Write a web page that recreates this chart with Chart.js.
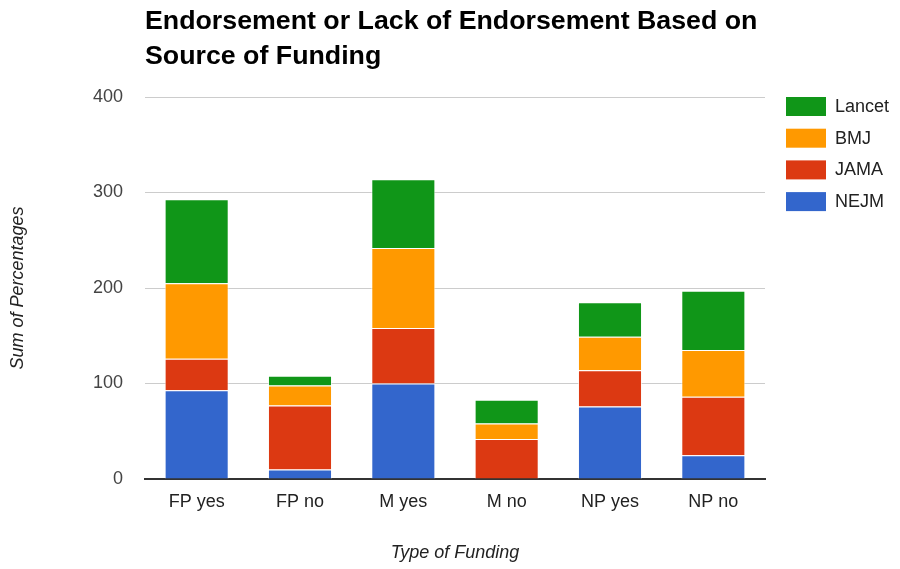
<!DOCTYPE html>
<html>
<head>
<meta charset="utf-8">
<title>Endorsement by Source of Funding</title>
<script src="https://cdn.jsdelivr.net/npm/chart.js@4.4.1/dist/chart.umd.min.js"></script>
<style>
  html, body { margin: 0; padding: 0; background: #fff; }
  #wrap { width: 900px; height: 569px; position: relative; }
</style>
</head>
<body>
<div id="wrap"><canvas id="chart" width="900" height="569"></canvas></div>
<script>
const categories = ['FP yes', 'FP no', 'M yes', 'M no', 'NP yes', 'NP no'];
const nejm = [93, 10, 100, 0, 76, 25];
const jama = [33, 67, 58, 42, 38, 61];
const bmj = [79, 21, 84, 16, 35, 49];
const lancet = [88, 10, 72, 25, 36, 62];
const yTicks = [0, 100, 200, 300, 400];

const titleLines = ['Endorsement or Lack of Endorsement Based on', 'Source of Funding'];
const font = '"Liberation Sans", Arial, sans-serif';

// title drawn over the plot's left edge, like the original
const titlePlugin = {
  id: 'leftTitle',
  afterDraw(chart) {
    const ctx = chart.ctx;
    ctx.save();
    ctx.fillStyle = '#000';
    ctx.font = 'bold 25px ' + font;
    ctx.textBaseline = 'alphabetic';
    ctx.translate(chart.chartArea.left, 0);
    ctx.scale(1.07, 1);
    titleLines.forEach((line, i) => {
      ctx.fillText(line, 0, 29 + i * 35);
    });
    ctx.restore();
  }
};

// legend to the right, top row first (reverse of stacking order)
const legendPlugin = {
  id: 'sideLegend',
  afterDraw(chart) {
    const ctx = chart.ctx;
    const sets = chart.data.datasets.slice().reverse();
    ctx.save();
    ctx.font = '18px ' + font;
    ctx.textBaseline = 'middle';
    sets.forEach((ds, i) => {
      const y = chart.chartArea.top + i * 31.7;
      ctx.fillStyle = ds.backgroundColor;
      ctx.fillRect(786, y, 40, 19);
      ctx.fillStyle = '#222';
      ctx.fillText(ds.label, 835, y + 10);
    });
    ctx.restore();
  }
};

const bar = (label, data, color) => ({
  label, data,
  backgroundColor: color,
  borderColor: 'rgba(255,255,255,0.7)',
  borderWidth: 1,
  categoryPercentage: 1,
  barPercentage: 0.62
});

new Chart(document.getElementById('chart'), {
  type: 'bar',
  data: {
    labels: categories,
    datasets: [
      bar('NEJM', nejm, '#3366cc'),
      bar('JAMA', jama, '#dc3912'),
      bar('BMJ', bmj, '#ff9900'),
      bar('Lancet', lancet, '#109618')
    ]
  },
  options: {
    responsive: false,
    animation: false,
    layout: { padding: { top: 97, right: 135, left: 0, bottom: 0 } },
    plugins: {
      legend: { display: false },
      title: { display: false },
      tooltip: { enabled: false }
    },
    scales: {
      x: {
        stacked: true,
        grid: { display: false, drawTicks: false },
        border: { color: '#333', width: 2 },
        ticks: { color: '#222', font: { family: font, size: 18 }, padding: 12 },
        title: {
          display: true, text: 'Type of Funding', color: '#222',
          font: { family: font, size: 18, style: 'italic' },
          padding: { top: 0, bottom: 5 }
        },
        afterFit(scale) { scale.height = 90; }
      },
      y: {
        stacked: true,
        min: 0, max: 400,
        afterBuildTicks(scale) { scale.ticks = yTicks.map(v => ({ value: v })); },
        grid: { color: '#ccc', drawTicks: false },
        border: { display: false },
        ticks: { color: '#444', font: { family: font, size: 18 }, padding: 22 },
        title: {
          display: true, text: 'Sum of Percentages', color: '#222',
          font: { family: font, size: 18, style: 'italic' },
          padding: { top: 7, bottom: 0 }
        },
        afterFit(scale) { scale.width = 145; }
      }
    }
  },
  plugins: [titlePlugin, legendPlugin]
});
</script>
</body>
</html>
